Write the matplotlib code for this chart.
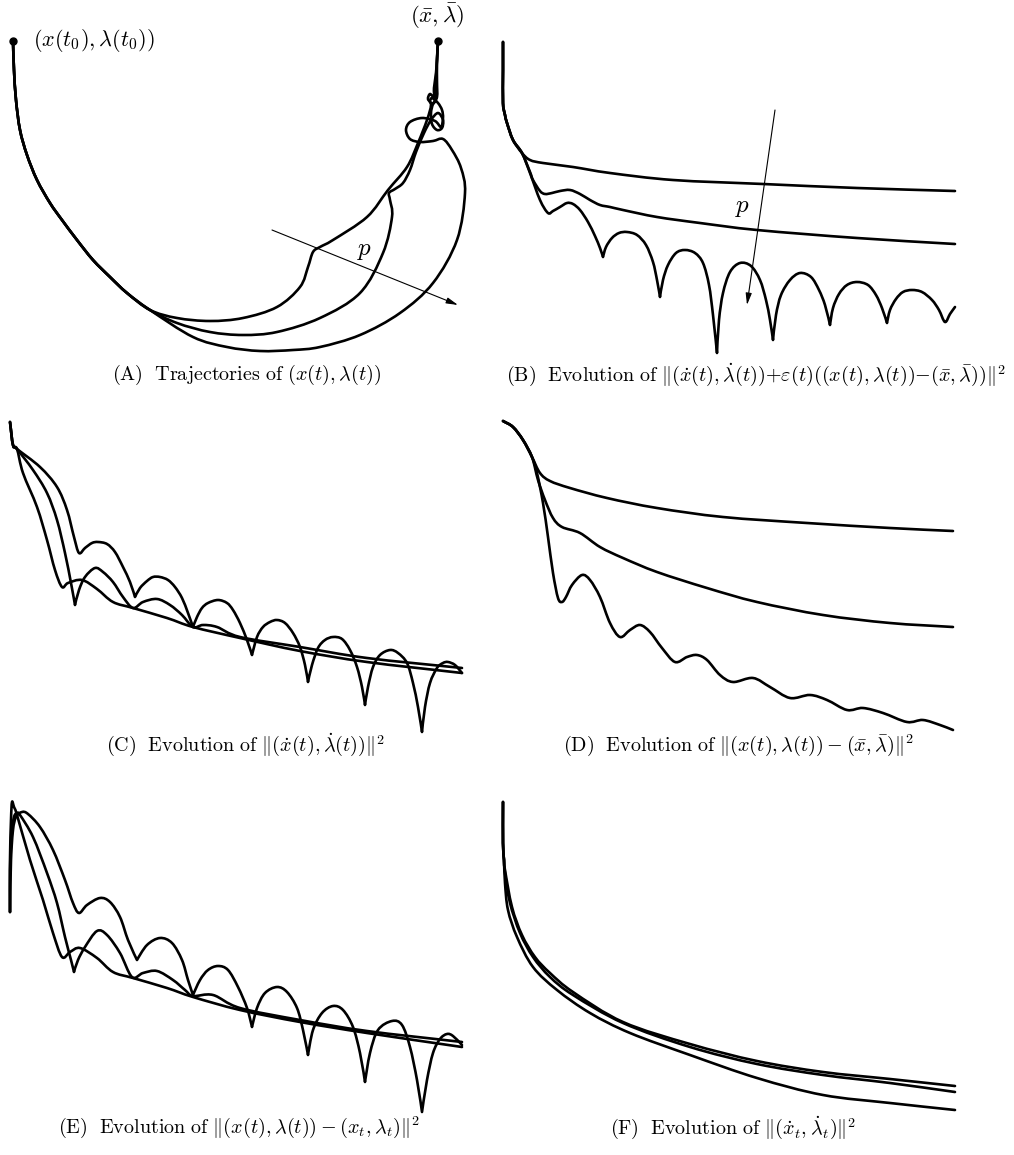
import matplotlib
matplotlib.use("Agg")
import matplotlib.pyplot as plt
import numpy as np
from matplotlib.patches import PathPatch
from matplotlib.path import Path

plt.rcParams["mathtext.fontset"] = "cm"

# (A) trajectories, x against lambda (arbitrary units)
a_arc = [(13, 319), (14, 290), (16, 260), (20, 230), (27, 205), (37, 180), (50, 157),
         (62, 140), (77, 120), (93, 100), (110, 83), (127, 67), (150, 50)]
a_inner = a_arc + [(177, 42), (210, 39), (243, 42), (277, 53), (300, 73), (308, 93),
                   (313, 108), (320, 113), (333, 120), (367, 143), (388, 170), (407, 193),
                   (418, 217), (427, 240), (431, 255), (428, 261), (430, 266), (434, 263),
                   (434, 272), (436, 287), (437, 302), (438, 319)]
a_mid = a_arc + [(177, 37), (210, 28), (243, 25), (277, 28), (320, 42), (360, 67),
                 (383, 107), (392, 143), (390, 160), (389, 167), (395, 171), (403, 177),
                 (410, 190), (416, 208), (424, 227), (431, 240), (438, 247), (443, 240),
                 (442, 232), (437, 230), (432, 236), (431, 247), (433, 256), (437, 263),
                 (437, 278), (437, 297), (438, 319)]
a_outer = a_arc + [(193, 23), (227, 13), (260, 9), (293, 10), (320, 13), (360, 25),
                   (400, 47), (433, 77), (457, 120), (465, 167), (461, 192), (452, 210),
                   (443, 221), (433, 219), (420, 218), (410, 221), (406, 230), (410, 238),
                   (422, 242), (435, 239), (441, 233), (443, 242), (442, 250), (438, 257),
                   (432, 262), (430, 258), (434, 257), (436, 265), (436, 280), (437, 300),
                   (438, 319)]
a_ends = [(13, 319), (438, 319)]
a_arrow = [(272, 130), (458, 55)]

# (B)
b_start = [(13, 318), (13, 290), (13, 257), (15, 245), (17, 237), (23, 220), (32, 207)]
b_top = b_start + [(40, 200), (53, 197), (83, 193), (120, 187), (183, 180), (273, 176),
                   (367, 172), (465, 169)]
b_mid = b_start + [(40, 188), (43, 180), (50, 169), (55, 166), (62, 167), (70, 169),
                   (80, 170), (90, 166), (100, 160), (110, 155), (120, 153), (133, 150),
                   (167, 143), (210, 137), (267, 130), (367, 122), (465, 116)]
b_low = b_start + [(40, 187), (50, 160), (58, 147), (63, 149), (70, 153), (77, 157),
                   (83, 156), (90, 150), (98, 138), (105, 124), (110, 112), (113, 103),
                   (116, 113), (122, 122), (129, 127), (137, 128), (147, 125), (156, 115),
                   (163, 98), (167, 80), (170, 63), (173, 80), (178, 95), (186, 107),
                   (195, 110), (205, 107), (213, 97), (219, 75), (223, 45), (227, 7),
                   (229, 40), (233, 67), (240, 88), (250, 97), (261, 94), (270, 80),
                   (276, 60), (280, 40), (283, 20), (286, 45), (291, 65), (300, 80),
                   (310, 87), (321, 83), (329, 70), (335, 55), (340, 35), (343, 52),
                   (349, 66), (357, 75), (367, 78), (378, 75), (386, 65), (392, 52),
                   (397, 37), (400, 50), (406, 61), (413, 68), (422, 70), (432, 68),
                   (442, 60), (449, 50), (455, 38), (460, 46), (465, 53)]
b_arrow = [(285, 250), (257, 55)]

# (C)
c_start = [(10, 318), (13, 295), (17, 291)]
c_1 = c_start + [(40, 273), (57, 253), (67, 230), (74, 203), (79, 187), (85, 192), (92, 197),
                 (98, 198), (107, 196), (115, 188), (123, 173), (130, 158), (135, 143),
                 (140, 152), (147, 159), (153, 163), (160, 163), (168, 160), (175, 153),
                 (182, 142), (188, 127), (193, 113), (197, 123), (202, 132), (208, 137),
                 (218, 140), (227, 137), (233, 130), (240, 117), (247, 100), (252, 85),
                 (257, 103), (263, 113), (270, 118), (277, 120), (285, 117), (293, 107),
                 (300, 93), (305, 75), (308, 58), (312, 75), (318, 92), (325, 100),
                 (333, 103), (342, 101), (350, 90), (357, 73), (362, 53), (365, 35),
                 (368, 53), (373, 73), (380, 85), (390, 90), (398, 87), (407, 77),
                 (413, 57), (418, 33), (422, 8), (425, 33), (430, 57), (437, 72),
                 (443, 77), (448, 78), (455, 75), (462, 67)]
c_2 = c_start + [(33, 270), (47, 247), (57, 220), (65, 187), (71, 157), (75, 135), (79, 150),
                 (85, 163), (95, 172), (103, 168), (113, 158), (123, 143), (133, 132),
                 (143, 138), (157, 141), (170, 135), (182, 125), (193, 113), (203, 115),
                 (217, 113), (240, 103), (300, 93), (367, 82), (462, 72)]
c_3 = c_start + [(23, 267), (37, 233), (47, 200), (55, 170), (62, 153), (68, 157), (82, 160),
                 (97, 151), (113, 138), (133, 132), (167, 122), (193, 113), (240, 102),
                 (300, 89), (367, 78), (462, 67)]

# (D)
d_start = [(13, 319), (23, 313), (33, 300), (42, 283)]
d_top = d_start + [(50, 267), (60, 259), (80, 252), (117, 242), (167, 232), (233, 223),
                   (317, 217), (400, 212), (463, 209)]
d_mid = d_start + [(48, 260), (55, 240), (63, 222), (72, 213), (90, 207), (110, 193),
                   (133, 182), (167, 168), (217, 152), (267, 138), (333, 125), (400, 117),
                   (463, 113)]
d_low = d_start + [(47, 267), (53, 237), (58, 203), (63, 167), (68, 142), (72, 138), (76, 143),
                   (82, 155), (92, 165), (100, 160), (110, 143), (120, 117), (130, 103),
                   (140, 110), (150, 115), (160, 108), (172, 92), (185, 78), (197, 83),
                   (207, 85), (217, 80), (230, 65), (243, 58), (263, 62), (280, 53),
                   (300, 42), (320, 45), (337, 40), (357, 30), (373, 32), (393, 27),
                   (417, 18), (433, 20), (450, 15), (463, 10)]

# (E)
e_1 = [(10, 208), (11, 260), (13, 290), (16, 303), (22, 308), (28, 306), (40, 293), (53, 270),
       (65, 240), (73, 217), (79, 207), (87, 215), (100, 222), (110, 218), (120, 203),
       (128, 180), (137, 160), (147, 175), (160, 182), (172, 177), (182, 160), (188, 140),
       (193, 125), (200, 140), (208, 150), (218, 154), (228, 150), (238, 133), (247, 112),
       (252, 93), (257, 112), (265, 127), (277, 133), (287, 128), (297, 112), (303, 90),
       (308, 65), (313, 90), (322, 107), (333, 114), (343, 110), (353, 93), (360, 67),
       (365, 38), (370, 67), (378, 90), (392, 99), (402, 95), (410, 73), (417, 40),
       (422, 8), (427, 40), (433, 67), (440, 81), (447, 86), (453, 84), (462, 75)]
e_2 = [(10, 208), (10, 250), (12, 287), (14, 303), (17, 307), (20, 305), (33, 283), (47, 247),
       (57, 217), (65, 183), (71, 160), (74, 148), (78, 160), (85, 173), (97, 189),
       (107, 185), (120, 167), (132, 143), (143, 147), (157, 149), (173, 140), (185, 130),
       (193, 124), (213, 125), (240, 112), (300, 100), (367, 89), (462, 78)]
e_3 = [(10, 208), (10, 260), (11, 300), (12, 318), (14, 313), (17, 305), (30, 260), (43, 220),
       (53, 187), (62, 163), (70, 168), (80, 172), (97, 162), (113, 148), (133, 142),
       (167, 132), (193, 123), (240, 110), (300, 98), (367, 87), (462, 73)]

# (F)
f_start = [(13, 318), (13, 277), (14, 260)]
f_1 = f_start + [(15, 237), (18, 210), (27, 183), (43, 153), (67, 130), (100, 107), (140, 87),
                 (200, 65), (267, 42), (333, 25), (400, 17), (465, 10)]
f_2 = f_start + [(15, 247), (20, 217), (30, 187), (43, 163), (60, 143), (83, 125), (133, 97),
                 (200, 73), (267, 56), (333, 45), (400, 37), (465, 28)]
f_3 = f_start + [(15, 250), (22, 213), (32, 185), (45, 163), (60, 147), (83, 128), (133, 98),
                 (200, 76), (267, 59), (333, 48), (400, 41), (465, 34)]

captions = [
    r"$(\mathrm{A})\ \ \mathrm{Trajectories\ of\ }(x(t),\lambda(t))$",
    r"$(\mathrm{B})\ \ \mathrm{Evolution\ of\ }\Vert(\dot{x}(t),\dot{\lambda}(t)){+}\varepsilon(t)"
    r"((x(t),\lambda(t)){-}(\bar{x},\bar{\lambda}))\Vert^2$",
    r"$(\mathrm{C})\ \ \mathrm{Evolution\ of\ }\Vert(\dot{x}(t),\dot{\lambda}(t))\Vert^2$",
    r"$(\mathrm{D})\ \ \mathrm{Evolution\ of\ }\Vert(x(t),\lambda(t))-(\bar{x},\bar{\lambda})\Vert^2$",
    r"$(\mathrm{E})\ \ \mathrm{Evolution\ of\ }\Vert(x(t),\lambda(t))-(x_t,\lambda_t)\Vert^2$",
    r"$(\mathrm{F})\ \ \mathrm{Evolution\ of\ }\Vert(\dot{x}_t,\dot{\lambda}_t)\Vert^2$",
]

W, H = 1014, 1155


def panel(fig, left, top, width, height):
    ax = fig.add_axes([left / W, 1 - (top + height) / H, width / W, height / H])
    ax.set_xlim(0, width)
    ax.set_ylim(0, height)
    ax.axis("off")
    return ax


def smooth(pts):
    # Catmull-Rom through the read points, sharp where the curve has a cusp-like trough
    p = np.array(pts, dtype=float)
    tan = np.zeros_like(p)
    tan[1:-1] = (p[2:] - p[:-2]) / 2
    tan[0] = p[1] - p[0]
    tan[-1] = p[-1] - p[-2]
    v = p[:, 1]
    for i in range(1, len(p) - 1):
        if v[i] < v[i - 1] - 8 and v[i] < v[i + 1] - 8:
            tan[i] = 0
    verts = [p[0]]
    codes = [Path.MOVETO]
    for i in range(len(p) - 1):
        verts += [p[i] + tan[i] / 3, p[i + 1] - tan[i + 1] / 3, p[i + 1]]
        codes += [Path.CURVE4] * 3
    return Path(verts, codes)


def draw(ax, *curves):
    for c in curves:
        ax.add_patch(PathPatch(smooth(c), fill=False, edgecolor="black", lw=1.9,
                               joinstyle="round", capstyle="round", clip_on=False))


def arrow(ax, pts, label_at):
    (x0, y0), (x1, y1) = pts
    ax.annotate("", xy=(x1, y1), xytext=(x0, y0), annotation_clip=False,
                arrowprops=dict(arrowstyle="-|>,head_length=0.7,head_width=0.18",
                                lw=0.8, color="black", shrinkA=0, shrinkB=0))
    ax.text(*label_at, r"$p$", fontsize=18, ha="center", va="center")


def main():
    fig = plt.figure(figsize=(W / 100, H / 100), dpi=100)

    ax = panel(fig, 0, 0, 480, 360)
    draw(ax, a_inner, a_mid, a_outer)
    ex, ey = np.array(a_ends).T
    ax.plot(ex, ey, "o", color="black", ms=5, clip_on=False)
    ax.text(33, 319, r"$(x(t_0),\lambda(t_0))$", fontsize=16, va="center", ha="left")
    ax.text(437, 344, r"$(\bar{x},\bar{\lambda})$", fontsize=16.5, va="center", ha="center")
    arrow(ax, a_arrow, (365, 110))

    ax = panel(fig, 490, 0, 480, 360)
    draw(ax, b_top, b_mid, b_low)
    arrow(ax, b_arrow, (253, 153))

    ax = panel(fig, 0, 400, 480, 340)
    draw(ax, c_1, c_2, c_3)

    ax = panel(fig, 490, 400, 480, 340)
    draw(ax, d_top, d_mid, d_low)

    ax = panel(fig, 0, 780, 480, 340)
    draw(ax, e_1, e_2, e_3)

    ax = panel(fig, 490, 780, 480, 340)
    draw(ax, f_1, f_2, f_3)

    cap_pos = [(247, 375), (756, 375), (245, 745), (738, 745), (239, 1127), (733, 1128)]
    for (cx, cy), txt in zip(cap_pos, captions):
        fig.text(cx / W, 1 - cy / H, txt, fontsize=14.5, ha="center", va="center")

    fig.savefig("out.png", dpi=100)


if __name__ == "__main__":
    main()
